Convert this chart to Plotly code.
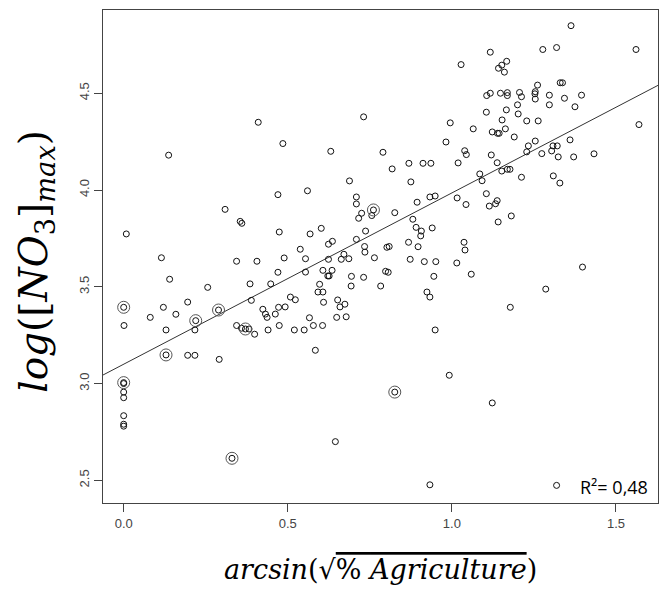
import plotly.graph_objects as go

# Scatter data: arcsin(sqrt(% agriculture)) vs log([NO3]max)
x_vals = [
    0.41, 0.485, 0.137, 0.47, 0.309, 0.355, 0.36, 0.008, 0.474, 0.115,
    0.489, 0.344, 0.406, 0.470, 0.140, 0.385, 0.448, 0.256, 0.389, 0.195,
    0.0, 0.121, 0.289, 0.424, 0.472, 0.492, 0.081, 0.159, 0.432, 0.437,
    0.462, 0.2195, 0.001, 0.474, 0.129, 0.217, 0.371, 0.344, 0.359, 0.382,
    0.399, 0.44, 0.129, 0.195, 0.217, 0.291, 0.0, 0.0, 0.0, 0.0,
    0.0, 0.0, 0.0, 0.330,
    0.554, 0.624, 0.663, 0.686, 0.764, 0.873, 0.916, 0.951, 1.015, 0.554,
    0.607, 0.635, 0.622, 0.626, 0.694, 0.731, 0.798, 0.806, 0.945, 0.693,
    0.783, 0.508, 0.523, 0.592, 0.607, 0.597, 0.609, 0.652, 0.659, 0.674,
    0.924, 0.933, 0.566, 0.578, 0.606, 0.520, 0.550, 0.649, 0.678, 0.949,
    0.584, 0.992, 0.826, 0.645, 0.933,
    1.059, 1.398, 1.286, 1.178, 1.123, 1.319,
    0.631, 0.790, 0.869, 0.912, 0.936, 0.818, 0.688, 0.875, 0.560, 0.709,
    0.709, 0.933, 0.949, 0.894, 0.761, 0.756, 0.725, 0.716, 0.826, 0.881,
    0.891, 0.907, 0.905, 0.94, 0.568, 0.602, 0.737, 0.709, 0.636, 0.624,
    0.734, 0.735, 0.868, 0.897, 0.802, 0.809, 0.538, 0.671,
    1.028, 0.731, 0.995, 0.982, 1.039, 1.044, 1.019, 1.016, 1.043, 1.037,
    1.040,
    1.106, 1.169, 1.169, 1.206, 1.212, 1.261, 1.254, 1.253, 1.254, 1.297,
    1.343, 1.375, 1.20, 1.297, 1.166, 1.105, 1.202, 1.153, 1.228, 1.263,
    1.065, 1.163, 1.123, 1.139, 1.144, 1.19, 1.254, 1.233, 1.228, 1.308,
    1.321, 1.36, 1.304, 1.274, 1.324, 1.371, 1.12, 1.138, 1.169, 1.177,
    1.152, 1.085, 1.092, 1.212, 1.309, 1.329, 1.105, 1.138, 1.133, 1.114,
    1.181, 1.141,
    1.363, 1.117, 1.277, 1.319, 1.561, 1.167, 1.152, 1.142, 1.16, 1.33,
    1.337, 1.117, 1.148, 1.395, 1.433, 1.570,
]
y_vals = [
    4.35, 4.24, 4.18, 3.976, 3.90, 3.838, 3.828, 3.773, 3.783, 3.65,
    3.649, 3.632, 3.632, 3.575, 3.539, 3.515, 3.515, 3.497, 3.430, 3.421,
    3.394, 3.394, 3.38, 3.384, 3.394, 3.396, 3.342, 3.358, 3.359, 3.342,
    3.359, 3.325, 3.30, 3.30, 3.277, 3.277, 3.282, 3.30, 3.286, 3.282,
    3.255, 3.277, 3.148, 3.146, 3.146, 3.125, 3.005, 3.0, 2.956, 2.927,
    2.834, 2.79, 2.78, 2.614,
    3.645, 3.642, 3.642, 3.645, 3.65, 3.642, 3.63, 3.63, 3.623, 3.576,
    3.585, 3.585, 3.556, 3.556, 3.554, 3.549, 3.58, 3.575, 3.554, 3.504,
    3.504, 3.447, 3.433, 3.473, 3.473, 3.513, 3.42, 3.432, 3.396, 3.41,
    3.473, 3.447, 3.34, 3.30, 3.30, 3.277, 3.277, 3.342, 3.345, 3.277,
    3.172, 3.043, 2.956, 2.70, 2.477,
    3.565, 3.602, 3.488, 3.394, 2.90, 2.474,
    4.20, 4.195, 4.138, 4.138, 4.138, 4.109, 4.047, 4.042, 3.996, 3.964,
    3.928, 3.964, 3.969, 3.937, 3.897, 3.868, 3.88, 3.854, 3.883, 3.849,
    3.807, 3.788, 3.763, 3.804, 3.773, 3.802, 3.788, 3.745, 3.735, 3.72,
    3.708, 3.679, 3.73, 3.707, 3.704, 3.708, 3.694, 3.668,
    4.648, 4.378, 4.347, 4.248, 4.203, 4.183, 4.14, 3.959, 3.925, 3.73,
    3.69,
    4.488, 4.503, 4.488, 4.504, 4.482, 4.542, 4.508, 4.497, 4.47, 4.49,
    4.474, 4.43, 4.44, 4.44, 4.414, 4.402, 4.393, 4.362, 4.357, 4.357,
    4.316, 4.316, 4.30, 4.293, 4.293, 4.274, 4.253, 4.228, 4.197, 4.228,
    4.228, 4.259, 4.202, 4.188, 4.171, 4.171, 4.181, 4.141, 4.107, 4.107,
    4.098, 4.083, 4.048, 4.066, 4.073, 4.036, 3.981, 3.945, 3.929, 3.917,
    3.866, 3.835,
    4.849, 4.712, 4.726, 4.736, 4.726, 4.665, 4.645, 4.629, 4.609, 4.554,
    4.554, 4.50, 4.50, 4.49, 4.187, 4.338,
]

# Sites drawn with an extra (larger) ring
big_x = [0.0, 0.2195, 0.289, 0.371, 0.129, 0.0, 0.330, 0.826, 0.761]
big_y = [3.394, 3.325, 3.38, 3.282, 3.148, 3.005, 2.614, 2.956, 3.897]

# Linear fit (intercept, slope) and R²
fit_intercept = 3.10
fit_slope = 0.885
r2_text = "R²= 0,48"

x_range = [-0.063, 1.628]
y_range = [2.383, 4.930]
x_ticks = [0.0, 0.5, 1.0, 1.5]
x_ticklabels = ["0.0", "0.5", "1.0", "1.5"]
y_ticks = [2.5, 3.0, 3.5, 4.0, 4.5]
y_ticklabels = ["2.5", "3.0", "3.5", "4.0", "4.5"]

fig = go.Figure()

fig.add_trace(go.Scatter(
    x=x_range,
    y=[fit_intercept + fit_slope * v for v in x_range],
    mode="lines", line=dict(color="#333333", width=1),
    hoverinfo="skip", showlegend=False, cliponaxis=True,
))
fig.add_trace(go.Scatter(
    x=x_vals, y=y_vals, mode="markers",
    marker=dict(symbol="circle-open", size=6, color="#111111",
                line=dict(width=1, color="#111111")),
    showlegend=False, cliponaxis=True,
))
fig.add_trace(go.Scatter(
    x=big_x, y=big_y, mode="markers",
    marker=dict(symbol="circle-open", size=12, color="#555555",
                line=dict(width=1, color="#555555")),
    showlegend=False, cliponaxis=True,
))

axis_common = dict(
    showgrid=False, zeroline=False, showline=True, mirror=True,
    linecolor="#444444", linewidth=1, ticks="outside", ticklen=8,
    tickcolor="#444444", tickwidth=1,
    tickfont=dict(family="Liberation Sans, Arial, sans-serif", size=13, color="#444444"),
)

fig.update_xaxes(range=x_range, tickvals=x_ticks, ticktext=x_ticklabels, **axis_common)
fig.update_yaxes(range=y_range, tickvals=y_ticks, ticktext=y_ticklabels,
                 tickangle=-90, **axis_common)

fig.add_annotation(
    x=0.5, y=-0.135, xref="paper", yref="paper", showarrow=False,
    xanchor="center", yanchor="middle",
    text="<i>arcsin</i>(√<span style='text-decoration:overline'>% <i>Agriculture</i></span>)",
    font=dict(family="DejaVu Serif, serif", size=27, color="#000000"),
)
fig.add_annotation(
    x=-0.12, y=0.49, xref="paper", yref="paper", showarrow=False,
    xanchor="center", yanchor="middle", textangle=-90,
    text="<i>log</i>([<i>NO</i><sub>3</sub>]<sub><i>max</i></sub>)",
    font=dict(family="DejaVu Serif, serif", size=39, color="#000000"),
)
fig.add_annotation(
    x=0.985, y=0.032, xref="paper", yref="paper", showarrow=False,
    xanchor="right", yanchor="middle", text=r2_text,
    font=dict(family="Open Sans, sans-serif", size=18, color="#000000"),
)

fig.update_layout(
    width=659, height=596,
    margin=dict(l=103, r=1, t=10, b=93),
    paper_bgcolor="white", plot_bgcolor="white",
)

fig.write_html("out.html")
